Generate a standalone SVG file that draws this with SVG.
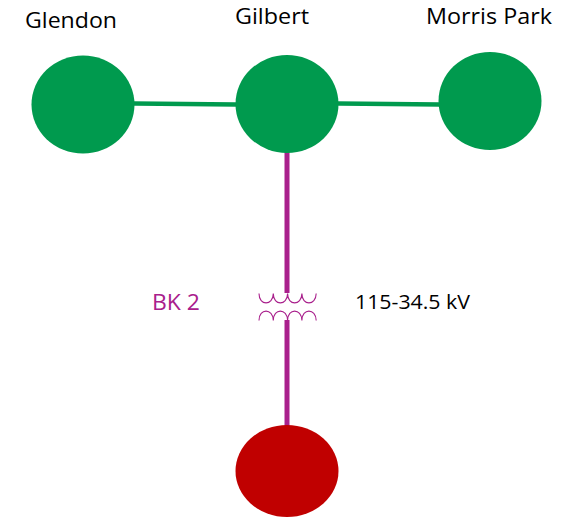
<svg xmlns="http://www.w3.org/2000/svg" width="575" height="517" viewBox="0 0 575 517">
<style>
text{font-family:"Open Sans","Noto Sans","Liberation Sans",sans-serif;font-size:22px;fill:#000}
.g{fill:#009A4E}
.line-g{stroke:#009A4E;stroke-width:4.500;fill:none}
.line-p{stroke:#A9208C;stroke-width:5;fill:none}
.coil{stroke:#A9208C;stroke-width:1.100;fill:none}
</style>
<rect width="575" height="517" fill="#fff"/>
<g id="connectors">
<path class="line-g" d="M134 103.500L236 104.500"/>
<path class="line-g" d="M338 103.500L440 104.500"/>
<path class="line-p" d="M287 148V293"/>
<path class="line-p" d="M287 320V426"/>
</g>
<g id="transformer">
<path class="coil" d="M259 293.500c0 12.500 14 12.500 14.300 0c0 12.500 14 12.500 14.300 0c0 12.500 14 12.500 14.300 0c0 12.500 14 12.500 14.300 0"/>
<path class="coil" d="M259 320.500c0-12.500 14-12.500 14.300 0c0-12.500 14-12.500 14.300 0c0-12.500 14-12.500 14.300 0c0-12.500 14-12.500 14.300 0"/>
</g>
<g id="glendon"><ellipse class="g" cx="83" cy="104.500" rx="51.500" ry="49"/><text x="25" y="28" textLength="92" lengthAdjust="spacingAndGlyphs">Glendon</text></g>
<g id="gilbert"><ellipse class="g" cx="287" cy="104" rx="51.500" ry="49"/><text x="235" y="24" textLength="74" lengthAdjust="spacingAndGlyphs">Gilbert</text></g>
<g id="morris-park"><ellipse class="g" cx="490" cy="101" rx="51.500" ry="49"/><text x="426" y="24" textLength="126" lengthAdjust="spacingAndGlyphs">Morris Park</text></g>
<g id="bus"><ellipse cx="287" cy="471" rx="51.500" ry="46" fill="#C00000"/></g>
<text x="152" y="310" textLength="48" lengthAdjust="spacingAndGlyphs" style="fill:#A9208C">BK 2</text>
<text x="355" y="309" textLength="115" lengthAdjust="spacingAndGlyphs" style="font-size:20px">115-34.5 kV</text>
</svg>
